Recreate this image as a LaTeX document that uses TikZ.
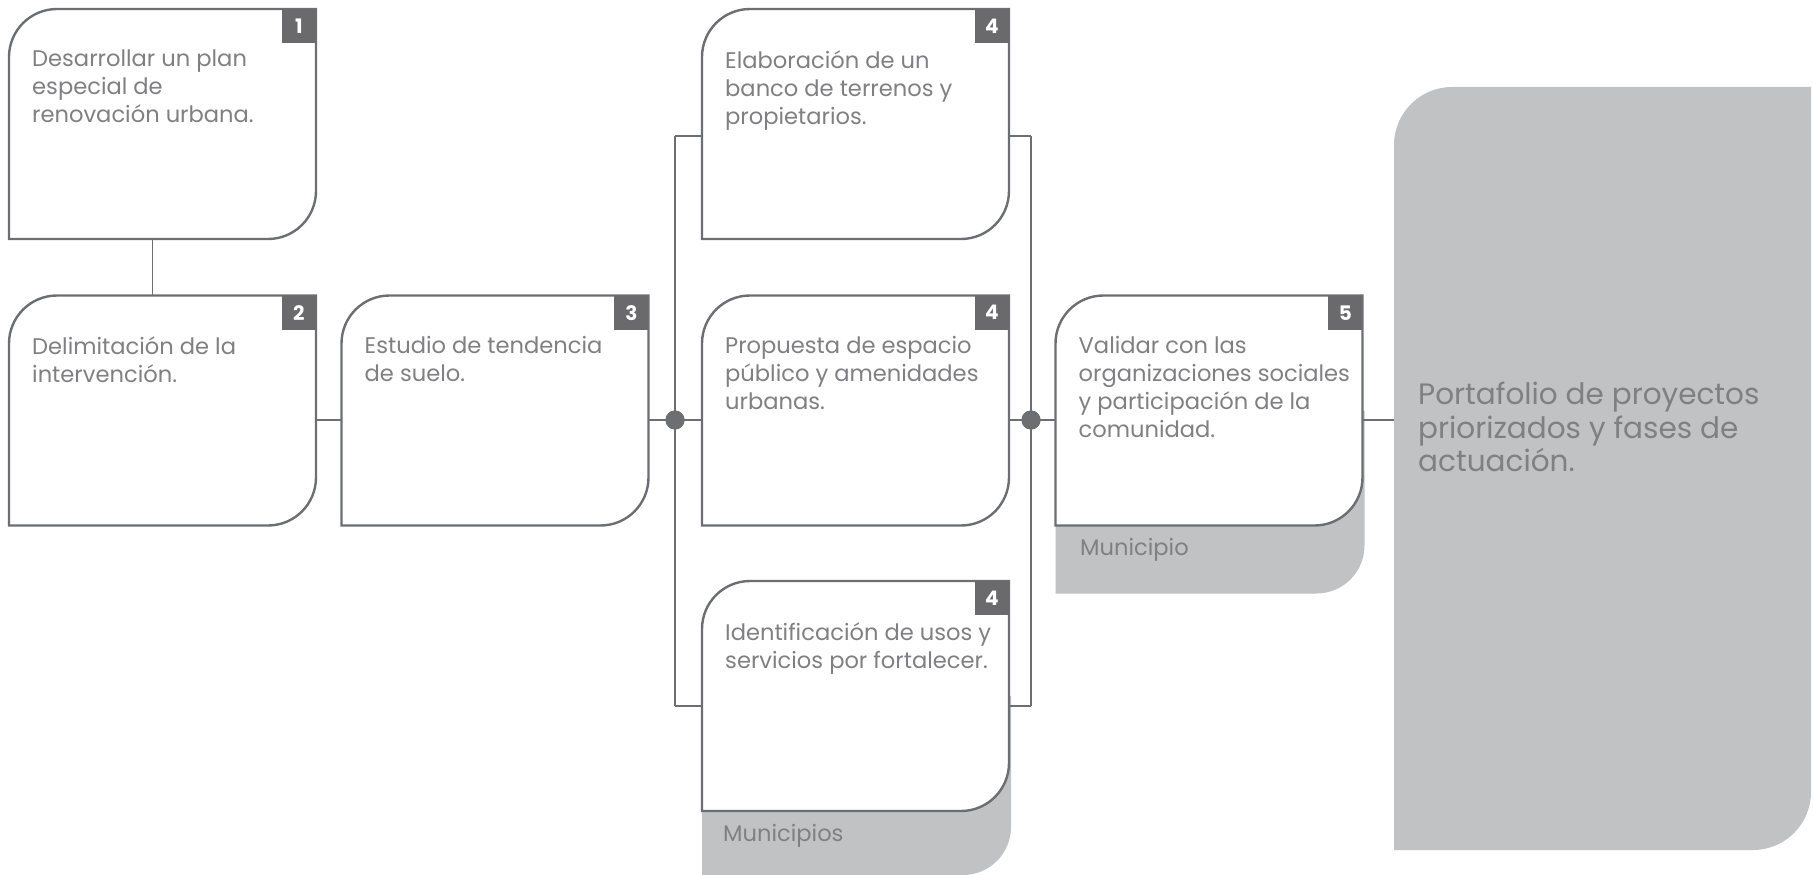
\documentclass[tikz,border=0pt]{standalone}
\usepackage{fontspec}
\setmainfont{Poppins}
\definecolor{lineGray}{HTML}{6D6E71}
\definecolor{tabGray}{HTML}{6A6A6C}
\definecolor{txtGray}{HTML}{808082}
\definecolor{panelGray}{HTML}{C1C2C4}
\newcommand\rsbox[1]{%
  \draw[boxline] ([xshift=48pt]#1.north west) -- (#1.north east)
    -- ([yshift=48pt]#1.south east) arc[start angle=0,end angle=-90,radius=48pt]
    -- (#1.south west) -- ([yshift=-48pt]#1.north west)
    arc[start angle=180,end angle=90,radius=48pt] -- cycle;}
\newcommand\rsshadow[2]{%
  \fill[panelGray] (#1.west) -- ([xshift=2pt]#1.east)
    -- ([xshift=2pt,yshift=#2]#1.south east) arc[start angle=0,end angle=-90,radius=48pt]
    -- ([yshift=#2-48pt]#1.south west) -- cycle;}
\tikzset{
  area/.style={minimum width=307pt, minimum height=230pt, inner sep=0pt, outer sep=0pt},
  boxline/.style={draw=lineGray, line width=2.4pt, fill=white},
  conn/.style={draw=lineGray, line width=1.4pt},
  tab/.style={fill=tabGray, text=white, minimum width=34pt, minimum height=34pt, inner sep=0pt,
    anchor=north east, font=\fontsize{20}{20}\selectfont\bfseries},
  btext/.style={anchor=north west, inner sep=0pt, align=left, text=txtGray,
    font=\fontsize{22.6}{28}\selectfont},
  lbl/.style={anchor=base west, inner sep=0pt, text=txtGray, font=\fontsize{22.6}{27}\selectfont},
  dot/.style={circle, fill=lineGray, minimum size=19pt, inner sep=0pt},
}
\begin{document}
\begin{tikzpicture}[x=1pt,y=1pt]
\useasboundingbox (0,0) rectangle (1813,-875);
% areas
\node[area] (b1) at (162.5,-124) {};
\node[area] (b2) at (162.5,-410.5) {};
\node[area] (b3) at (495,-410.5) {};
\node[area] (b4a) at (855.5,-124) {};
\node[area] (b4b) at (855.5,-410.5) {};
\node[area] (b4c) at (855.5,-696) {};
\node[area] (b5) at (1209,-410.5) {};
\node[minimum width=417pt, minimum height=763pt, inner sep=0pt, outer sep=0pt] (big) at (1602.5,-468.5) {};
% big panel
\fill[panelGray] ([xshift=58pt]big.north west) -- (big.north east)
  -- ([yshift=58pt]big.south east) arc[start angle=0,end angle=-90,radius=58pt]
  -- (big.south west) -- ([yshift=-58pt]big.north west)
  arc[start angle=180,end angle=90,radius=58pt] -- cycle;
% shadows
\rsshadow{b4c}{-16pt}
\rsshadow{b5}{-20pt}
% connectors
\coordinate (lt) at (675,-136);
\coordinate (lb) at (675,-706);
\coordinate (rt) at (1031,-136);
\coordinate (rb) at (1031,-706);
\node[dot] (dl) at (675,-420) {};
\node[dot] (dr) at (1031,-420) {};
\draw[conn] ([xshift=-10pt]b1.south) -- ([xshift=-10pt]b2.north);
\draw[conn] (b2.east |- dl) -- (b3.west |- dl);
\draw[conn] (b3.east |- dl) -- (dl.center);
\draw[conn] (lt) -- (lb);
\draw[conn] (rt) -- (rb);
\draw[conn] (lt) -- (lt -| b4a.west);
\draw[conn] (dl.center) -- (dl -| b4b.west);
\draw[conn] (lb) -- (lb -| b4c.west);
\draw[conn] (rt) -- (rt -| b4a.east);
\draw[conn] (dr.center) -- (dr -| b4b.east);
\draw[conn] (rb) -- (rb -| b4c.east);
\draw[conn] (dr.center) -- (dr -| b5.west);
\draw[conn] (b5.east |- dr) -- (big.west |- dr);
\node[dot] at (dl) {};
\node[dot] at (dr) {};
% boxes
\rsbox{b1}\rsbox{b2}\rsbox{b3}\rsbox{b4a}\rsbox{b4b}\rsbox{b4c}\rsbox{b5}
% tabs
\node[tab] (n1) at (b1.north east) {1};
\node[tab] (n2) at (b2.north east) {2};
\node[tab] (n3) at (b3.north east) {3};
\node[tab] (n4a) at (b4a.north east) {4};
\node[tab] (n4b) at (b4b.north east) {4};
\node[tab] (n4c) at (b4c.north east) {4};
\node[tab] (n5) at (b5.north east) {5};
% texts
\node[btext] (t1) at ([xshift=23pt,yshift=-41pt]b1.north west) {Desarrollar un plan\\especial de\\renovación urbana.};
\node[btext] (t2) at ([xshift=23pt,yshift=-41pt]b2.north west) {Delimitación de la\\intervención.};
\node[btext] (t3) at ([xshift=23pt,yshift=-41pt]b3.north west) {Estudio de tendencia\\de suelo.};
\node[btext] (t4a) at ([xshift=23pt,yshift=-41pt]b4a.north west) {Elaboración de un\\banco de terrenos y\\propietarios.};
\node[btext] (t4b) at ([xshift=23pt,yshift=-41pt]b4b.north west) {Propuesta de espacio\\público y amenidades\\urbanas.};
\node[btext] (t4c) at ([xshift=23pt,yshift=-41pt]b4c.north west) {Identificación de usos y\\servicios por fortalecer.};
\node[btext] (t5) at ([xshift=23pt,yshift=-41pt]b5.north west) {Validar con las\\organizaciones sociales\\y participación de la\\comunidad.};
\node[lbl] (l4c) at (723,-841) {Municipios};
\node[lbl] (l5) at (1080,-555) {Municipio};
\node[btext, font=\fontsize{29.5}{33.5}\selectfont] (tbig) at (1418,-382) {Portafolio de proyectos\\priorizados y fases de\\actuación.};
\end{tikzpicture}
\end{document}
